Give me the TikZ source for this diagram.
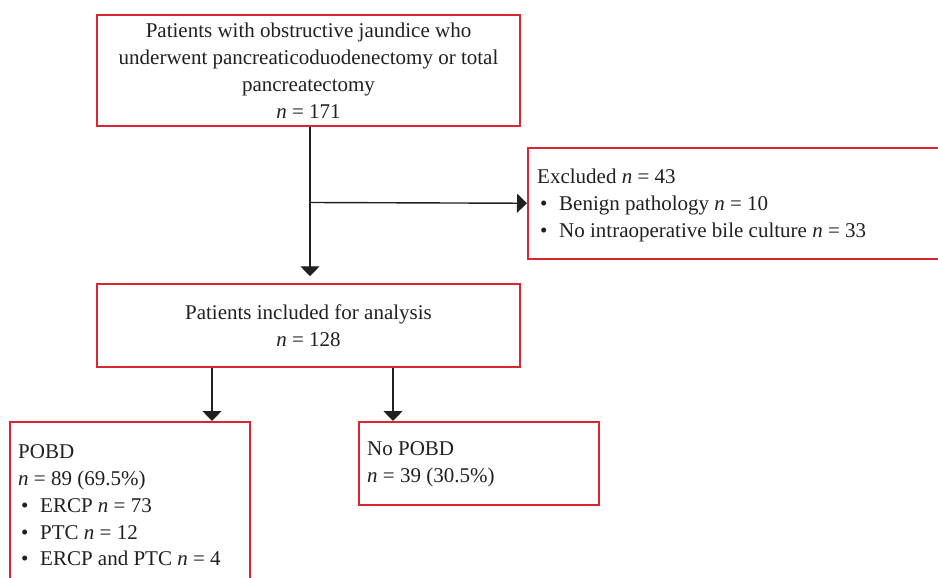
\documentclass[tikz,border=0pt]{standalone}
\usepackage{fontspec}
\setmainfont{Liberation Serif}
\usetikzlibrary{arrows.meta}
\definecolor{boxred}{RGB}{215,40,50}
\definecolor{ink}{RGB}{35,31,32}
\newcommand{\nn}{\textit{n}}
\newcommand{\bul}{\makebox[22pt][l]{\hspace{3pt}\textbullet}}
\begin{document}
\begin{tikzpicture}[x=1pt,y=-1pt,
  box/.style={draw=boxred, line width=1.5pt, rectangle, inner sep=0pt},
  txt/.style={text=ink, font=\fontsize{21}{26.9}\selectfont, inner sep=0pt},
  conn/.style={draw=ink, line width=1.4pt},
  arr/.style={conn, -{Triangle[length=10pt,width=19pt]}}]
\useasboundingbox (0,0) rectangle (938,578);
\clip (0,0) rectangle (938,578);
\fill[white] (0,0) rectangle (938,578);
% boxes
\node[box, txt, minimum width=423pt, minimum height=111pt, align=center]
  (top) at (308.5,70.5)
  {Patients with obstructive jaundice who\\underwent pancreaticoduodenectomy or total\\pancreatectomy\\\nn{} = 171};
\node[box, minimum width=418pt, minimum height=111pt, anchor=north west]
  (excl) at (527,147) {};
\node[txt, align=left, anchor=west] (excltext) at ([xshift=10pt,yshift=-2pt]excl.west)
  {Excluded \nn{} = 43\\\bul Benign pathology \nn{} = 10\\\bul No intraoperative bile culture \nn{} = 33};
\node[box, txt, minimum width=423pt, minimum height=83pt, align=center]
  (mid) at (308.5,325.5)
  {Patients included for analysis\\\nn{} = 128};
\node[box, minimum width=240pt, minimum height=166pt, anchor=north west]
  (pobd) at (9,421) {};
\node[txt, align=left, anchor=west] (pobdtext) at ([xshift=9pt,yshift=-0.5pt]pobd.west)
  {POBD\\\nn{} = 89 (69.5\%)\\\bul ERCP \nn{} = 73\\\bul PTC \nn{} = 12\\\bul ERCP and PTC \nn{} = 4};
\node[box, minimum width=240pt, minimum height=83pt, anchor=north west]
  (nopobd) at (358,421) {};
\node[txt, align=left, anchor=west] (nopobdtext) at ([xshift=9pt,yshift=-1pt]nopobd.west)
  {No POBD\\\nn{} = 39 (30.5\%)};
% connectors
\coordinate (split) at (310,202.5);
\draw[arr, shorten >=7pt] (top.south -| split) -- (mid.north -| split);
\draw[arr] (split) -- (excl.west);
\coordinate (lo) at (212,367);
\coordinate (ro) at (393,367);
\draw[arr] (mid.south -| lo) -- (pobd.north -| lo);
\draw[arr] (mid.south -| ro) -- (nopobd.north -| ro);
\end{tikzpicture}
\end{document}
